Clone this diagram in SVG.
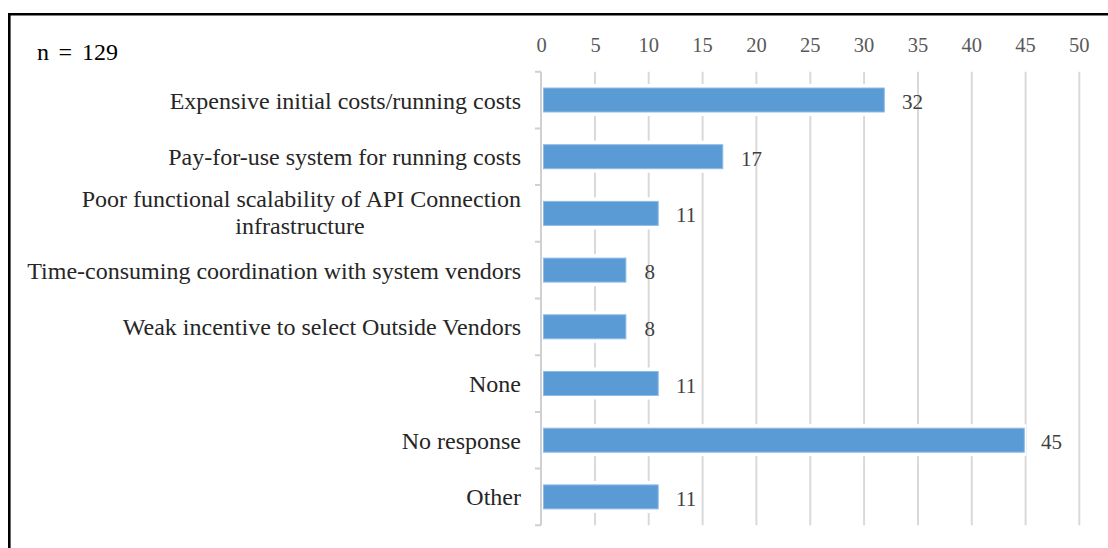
<svg xmlns="http://www.w3.org/2000/svg" width="1108" height="548" viewBox="0 0 1108 548">
<style>
.cat{font-family:"Liberation Serif","Times New Roman",serif;font-size:24px;fill:#262626;text-anchor:end}
.tick{font-family:"Liberation Serif","Times New Roman",serif;font-size:20.5px;fill:#595959;text-anchor:middle}
.val{font-family:"Liberation Serif","Times New Roman",serif;font-size:21px;fill:#404040}
.title{font-family:"Liberation Serif","Times New Roman",serif;font-size:24px;fill:#000000}
.grid{stroke:#d9d9d9;stroke-width:2;fill:none}
.axis{stroke:#d0d0d0;stroke-width:2;fill:none}
.bar{fill:#5b9bd5;stroke:#8fbbe6;stroke-width:1}
.halo{fill:#ffffff}
</style>
<rect x="0" y="0" width="1108" height="548" fill="#ffffff"/>
<path d="M9.3,548 V14.3 H1108" fill="none" stroke="#000000" stroke-width="2.6"/>
<text class="title" y="60"><tspan x="37">n</tspan><tspan x="58.5">=</tspan><tspan x="82">129</tspan></text>
<g id="x-axis">
<g class="grid">
<line x1="595" y1="71.7" x2="595" y2="525.3"/>
<line x1="648.7" y1="71.7" x2="648.7" y2="525.3"/>
<line x1="702.6" y1="71.7" x2="702.6" y2="525.3"/>
<line x1="756.4" y1="71.7" x2="756.4" y2="525.3"/>
<line x1="810.3" y1="71.7" x2="810.3" y2="525.3"/>
<line x1="864.1" y1="71.7" x2="864.1" y2="525.3"/>
<line x1="918" y1="71.7" x2="918" y2="525.3"/>
<line x1="971.8" y1="71.7" x2="971.8" y2="525.3"/>
<line x1="1025.6" y1="71.7" x2="1025.6" y2="525.3"/>
<line x1="1079.3" y1="71.7" x2="1079.3" y2="525.3"/>
</g>
<text class="tick" x="541.5" y="52">0</text>
<text class="tick" x="595.5" y="52">5</text>
<text class="tick" x="648.7" y="52">10</text>
<text class="tick" x="702.6" y="52">15</text>
<text class="tick" x="756.4" y="52">20</text>
<text class="tick" x="810.3" y="52">25</text>
<text class="tick" x="864.1" y="52">30</text>
<text class="tick" x="918" y="52">35</text>
<text class="tick" x="971.8" y="52">40</text>
<text class="tick" x="1025.6" y="52">45</text>
<text class="tick" x="1079.3" y="52">50</text>
</g>
<g id="bar-expensive">
<rect class="halo" x="541" y="84" width="345.3" height="32"/>
<rect class="bar" x="543.5" y="88" width="340.8" height="24"/>
<text class="val" x="902" y="109">32</text>
<text class="cat" x="521" y="108.5">Expensive initial costs/running costs</text>
</g>
<g id="bar-payforuse">
<rect class="halo" x="541" y="140.7" width="183.8" height="32"/>
<rect class="bar" x="543.5" y="144.7" width="179.3" height="24"/>
<text class="val" x="741" y="165.7">17</text>
<text class="cat" x="521" y="165">Pay-for-use system for running costs</text>
</g>
<g id="bar-api">
<rect class="halo" x="541" y="197.4" width="119.2" height="32"/>
<rect class="bar" x="543.5" y="201.4" width="114.7" height="24"/>
<text class="val" x="676" y="222.4">11</text>
<text class="cat" x="521" y="207">Poor functional scalability of API Connection</text>
<text class="cat" x="300" y="234" style="text-anchor:middle">infrastructure</text>
</g>
<g id="bar-time">
<rect class="halo" x="541" y="254.1" width="86.9" height="32"/>
<rect class="bar" x="543.5" y="258.1" width="82.4" height="24"/>
<text class="val" x="644.5" y="279.1">8</text>
<text class="cat" x="521" y="278.5">Time-consuming coordination with system vendors</text>
</g>
<g id="bar-weak">
<rect class="halo" x="541" y="310.8" width="86.9" height="32"/>
<rect class="bar" x="543.5" y="314.8" width="82.4" height="24"/>
<text class="val" x="644.5" y="335.8">8</text>
<text class="cat" x="521" y="335">Weak incentive to select Outside Vendors</text>
</g>
<g id="bar-none">
<rect class="halo" x="541" y="367.5" width="119.2" height="32"/>
<rect class="bar" x="543.5" y="371.5" width="114.7" height="24"/>
<text class="val" x="676" y="392.5">11</text>
<text class="cat" x="521" y="392">None</text>
</g>
<g id="bar-noresponse">
<rect class="halo" x="541" y="424.2" width="485.3" height="32"/>
<rect class="bar" x="543.5" y="428.2" width="480.8" height="24"/>
<text class="val" x="1041" y="449.2">45</text>
<text class="cat" x="521" y="448.5">No response</text>
</g>
<g id="bar-other">
<rect class="halo" x="541" y="480.9" width="119.2" height="32"/>
<rect class="bar" x="543.5" y="484.9" width="114.7" height="24"/>
<text class="val" x="676" y="505.9">11</text>
<text class="cat" x="521" y="505">Other</text>
</g>
<g id="connectors">
<path class="axis" d="M541,71.7 V525.3 M535,71.7 H541 M535,128.4 H541 M535,185.1 H541 M535,241.8 H541 M535,298.5 H541 M535,355.2 H541 M535,411.9 H541 M535,468.6 H541 M535,525.3 H541"/>
</g>
</svg>
